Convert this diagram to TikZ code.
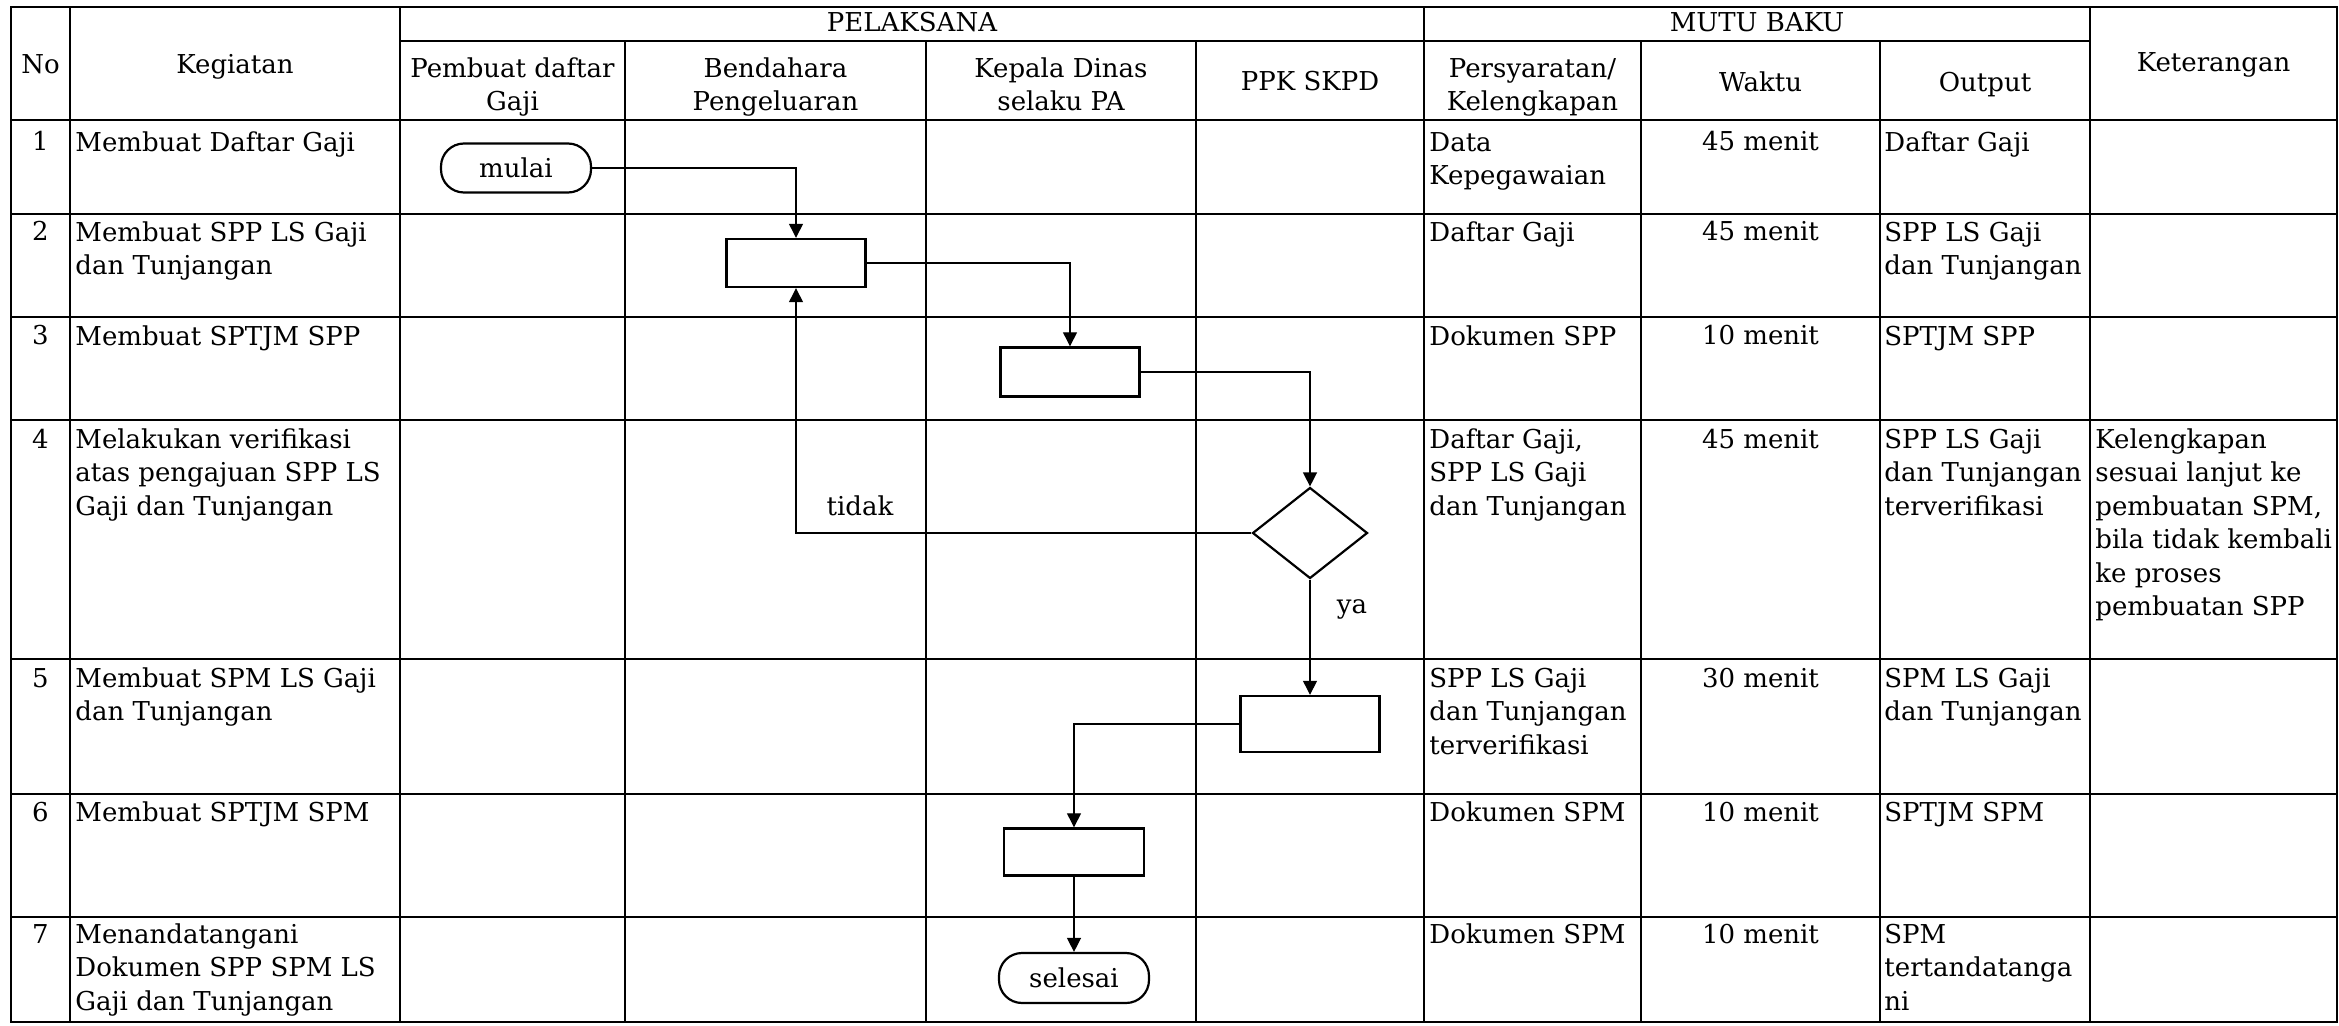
\documentclass[tikz,border=0pt]{standalone}
\usepackage{fontspec}
\setmainfont{DejaVu Serif}
\usetikzlibrary{arrows.meta,shapes.geometric}
\newcommand\cf{\fontsize{13}{16.75}\selectfont}
\newcommand\ct[4]{\node[celltxt] (#1) at (#2,#3-23.45) {\strut #4};}
\newcommand\cc[4]{\node[ccelltxt] (#1) at (#2,#3-23.45) {\strut #4};}
\newcommand\hb[4]{\node[hd] (#1) at (#2,#3) {#4};}
\begin{document}
\begin{tikzpicture}[x=0.5pt,y=-0.5pt,
  gridline/.style={line width=1.25pt, line cap=rect},
  flowarrow/.style={line width=0.65pt, -{Triangle[length=7pt,width=7pt]}},
  procbox/.style={draw, line width=1.2pt, minimum width=69.5pt, minimum height=24pt, inner sep=0},
  termbox/.style={draw, line width=1.1pt, rounded corners=11.5pt, minimum width=75pt, minimum height=24.5pt, inner sep=0, font=\cf},
  decision/.style={draw, diamond, line width=1.1pt, minimum width=57.5pt, minimum height=45.5pt, inner sep=0},
  celltxt/.style={anchor=north west, inner sep=0, align=left, font=\cf},
  ccelltxt/.style={anchor=north, inner sep=0, align=center, font=\cf},
  hd/.style={anchor=base, inner sep=0, font=\cf},
  lbl/.style={inner sep=0, font=\cf}]
\useasboundingbox (0,0) rectangle (2339,1026);
\fill[white] (0,0) rectangle (2339,1026);
% grid
\draw[gridline] (11,7) rectangle (2337,1022);
\foreach \y in {120,214,317,420,659,794,917} \draw[gridline] (11,\y) -- (2337,\y);
\draw[gridline] (400,41) -- (2090,41);
\foreach \x in {70,400,1424,2090} \draw[gridline] (\x,7) -- (\x,1022);
\foreach \x in {625,926,1196,1641,1880} \draw[gridline] (\x,41) -- (\x,1022);
% header
\hb{hpel}{912}{32}{PELAKSANA}
\hb{hmutu}{1757}{32}{MUTU BAKU}
\hb{hno}{40.5}{74}{No}
\hb{hkeg}{235}{74}{Kegiatan}
\hb{hket}{2213.5}{72}{Keterangan}
\cc{hpem}{512.5}{77}{Pembuat daftar\\Gaji}
\cc{hben}{775.5}{77}{Bendahara\\Pengeluaran}
\cc{hkep}{1061}{77}{Kepala Dinas\\selaku PA}
\hb{hppk}{1310}{91}{PPK SKPD}
\cc{hper}{1532.5}{77}{Persyaratan/\\Kelengkapan}
\hb{hwak}{1760.5}{92}{Waktu}
\hb{hout}{1985}{92}{Output}
% row 1
\hb{n1}{40.5}{151}{1}
\ct{k1}{75}{151}{Membuat Daftar Gaji}
\ct{p1}{1429}{151}{Data\\Kepegawaian}
\hb{w1}{1760.5}{151}{45 menit}
\ct{o1}{1884}{151}{Daftar Gaji}
% row 2
\hb{n2}{40.5}{241}{2}
\ct{k2}{75}{241}{Membuat SPP LS Gaji\\dan Tunjangan}
\ct{p2}{1429}{241}{Daftar Gaji}
\hb{w2}{1760.5}{241}{45 menit}
\ct{o2}{1884}{241}{SPP LS Gaji\\dan Tunjangan}
% row 3
\hb{n3}{40.5}{345}{3}
\ct{k3}{75}{345}{Membuat SPTJM SPP}
\ct{p3}{1429}{345}{Dokumen SPP}
\hb{w3}{1760.5}{345}{10 menit}
\ct{o3}{1884}{345}{SPTJM SPP}
% row 4
\hb{n4}{40.5}{448}{4}
\ct{k4}{75}{448}{Melakukan verifikasi\\atas pengajuan SPP LS\\Gaji dan Tunjangan}
\ct{p4}{1429}{448}{Daftar Gaji,\\SPP LS Gaji\\dan Tunjangan}
\hb{w4}{1760.5}{448}{45 menit}
\ct{o4}{1884}{448}{SPP LS Gaji\\dan Tunjangan\\terverifikasi}
\ct{e4}{2095}{448}{Kelengkapan\\sesuai lanjut ke\\pembuatan SPM,\\bila tidak kembali\\ke proses\\pembuatan SPP}
% row 5
\hb{n5}{40.5}{687}{5}
\ct{k5}{75}{687}{Membuat SPM LS Gaji\\dan Tunjangan}
\ct{p5}{1429}{687}{SPP LS Gaji\\dan Tunjangan\\terverifikasi}
\hb{w5}{1760.5}{687}{30 menit}
\ct{o5}{1884}{687}{SPM LS Gaji\\dan Tunjangan}
% row 6
\hb{n6}{40.5}{821}{6}
\ct{k6}{75}{821}{Membuat SPTJM SPM}
\ct{p6}{1429}{821}{Dokumen SPM}
\hb{w6}{1760.5}{821}{10 menit}
\ct{o6}{1884}{821}{SPTJM SPM}
% row 7
\hb{n7}{40.5}{943}{7}
\ct{k7}{75}{943}{Menandatangani\\Dokumen SPP SPM LS\\Gaji dan Tunjangan}
\ct{p7}{1429}{943}{Dokumen SPM}
\hb{w7}{1760.5}{943}{10 menit}
\ct{o7}{1884}{943}{SPM\\tertandatanga\\ni}
% flowchart
\node[termbox] (mulai) at (516,168) {mulai};
\node[procbox] (b1) at (796,263) {};
\node[procbox, minimum height=24.5pt] (b2) at (1070,372) {};
\node[decision] (d) at (1310,533) {};
\node[procbox, minimum height=28pt] (b3) at (1310,724) {};
\node[procbox, minimum width=70pt, minimum height=23.5pt] (b4) at (1074,852) {};
\node[termbox, minimum height=25pt] (selesai) at (1074,978) {selesai};
\draw[flowarrow] (mulai.east) -| (b1.north);
\draw[flowarrow] (b1.east) -| (b2.north);
\draw[flowarrow] (b2.east) -| (d.north);
\draw[flowarrow] (d.west) -| (b1.south);
\draw[flowarrow] (d.south) -- (b3.north);
\draw[flowarrow] (b3.west) -| (b4.north);
\draw[flowarrow] (b4.south) -- (selesai.north);
\node[lbl] (tidak) at (860,506) {tidak};
\node[lbl] (ya) at (1352,609) {ya};
\end{tikzpicture}
\end{document}
